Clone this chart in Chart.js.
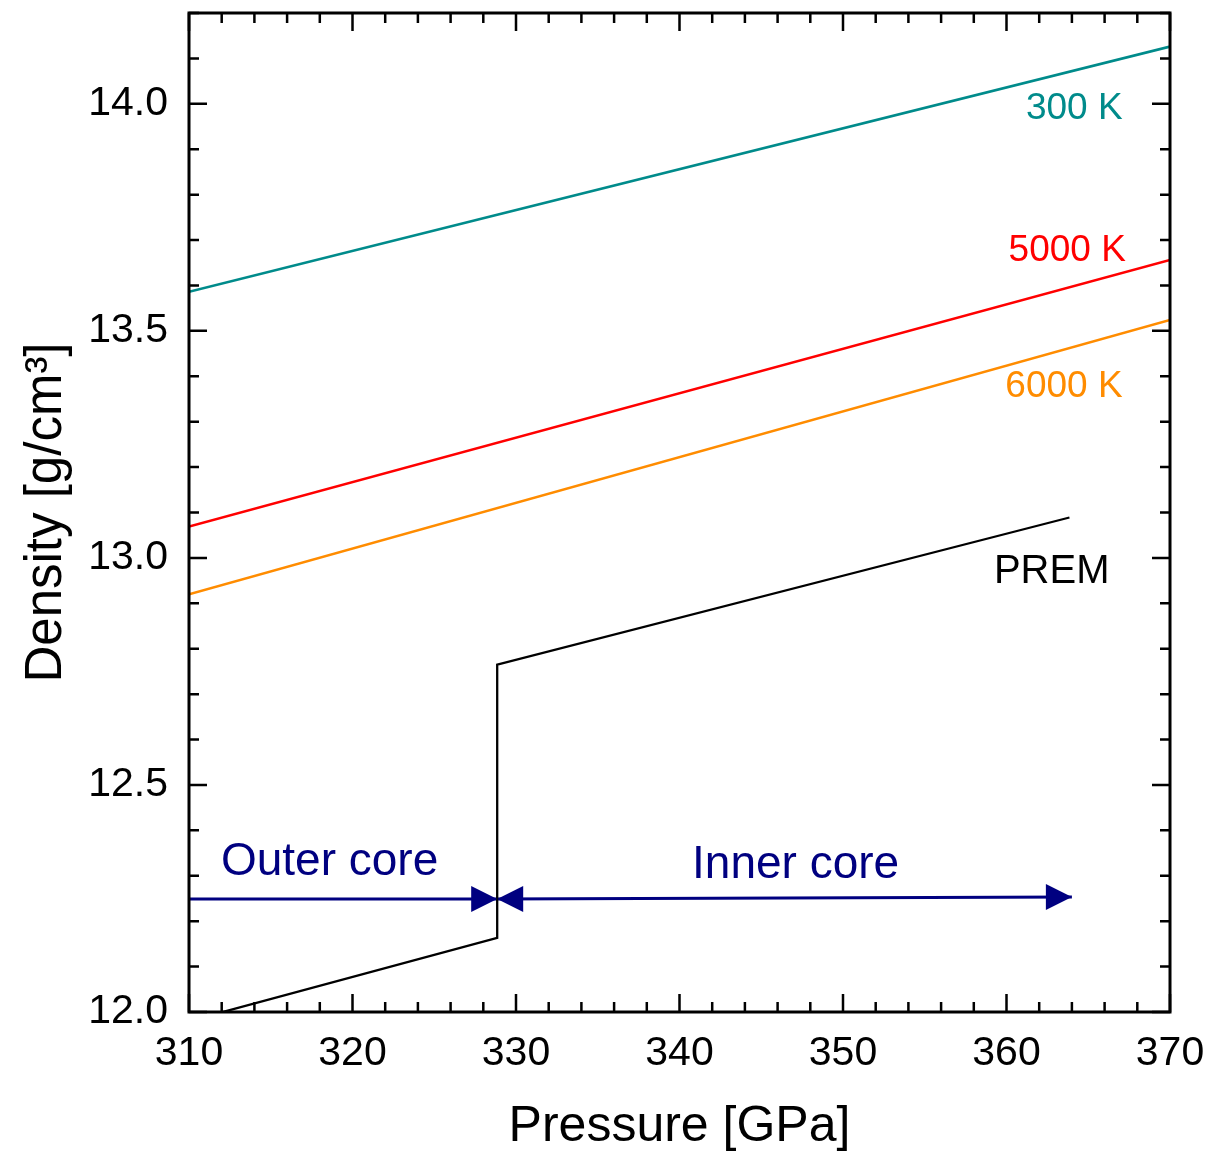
<!DOCTYPE html>
<html>
<head>
<meta charset="utf-8">
<script src="https://cdn.jsdelivr.net/npm/chart.js@4.4.1/dist/chart.umd.min.js"></script>
<style>
  html, body { margin: 0; padding: 0; background: #fff; }
  #wrap { width: 1221px; height: 1155px; }
</style>
</head>
<body>
<div id="wrap"><canvas id="densityChart"></canvas></div>
<script>
// Data (pressure in GPa, density in g/cm3)
const pressure300 = [310, 370];
const density300 = [13.586, 14.126];
const pressure5000 = [310, 370];
const density5000 = [13.069, 13.656];
const pressure6000 = [310, 370];
const density6000 = [12.920, 13.524];
const premPressure = [310, 328.85, 328.85, 363.85];
const premDensity = [11.98, 12.163, 12.765, 13.089];
const outerCoreArrowP = [310, 328.85];
const outerCoreArrowD = [12.249, 12.249];
const innerCoreArrowP = [328.85, 364];
const innerCoreArrowD = [12.249, 12.253];

const xTicks = [310, 320, 330, 340, 350, 360, 370];
const yTicks = [12.0, 12.5, 13.0, 13.5, 14.0];

const FONT = 'Arial, "Liberation Sans", sans-serif';
const NAVY = '#000080';

function pts(xs, ys) {
    return xs.map((x, i) => ({ x: x, y: ys[i] }));
}

// Labels placed next to the curves (data coordinates)
const curveLabels = [
    { text: '300 K', x: 367.1, y: 13.99, color: '#008B8B', size: 37, align: 'right' },
    { text: '5000 K', x: 367.3, y: 13.676, color: '#FF0000', size: 37, align: 'right' },
    { text: '6000 K', x: 367.1, y: 13.376, color: '#FF8C00', size: 37, align: 'right' },
    { text: 'PREM', x: 366.3, y: 12.97, color: '#000000', size: 40, align: 'right' },
    { text: 'Outer core', x: 318.6, y: 12.33, color: NAVY, size: 46, align: 'center' },
    { text: 'Inner core', x: 347.1, y: 12.323, color: NAVY, size: 46, align: 'center' }
];

// frame with inward ticks on all four sides, plus labels and arrow heads
const framePlugin = {
    id: 'frame',
    afterDatasetsDraw(chart) {
        const { ctx, chartArea: a, scales: { x, y } } = chart;
        ctx.save();
        ctx.strokeStyle = '#000';
        ctx.lineWidth = 3;
        ctx.strokeRect(a.left, a.top, a.right - a.left, a.bottom - a.top);
        ctx.lineWidth = 2.5;
        ctx.beginPath();
        for (let v = 310; v <= 370.001; v += 2) {
            const px = x.getPixelForValue(v);
            const len = Math.abs(v % 10) < 0.01 ? 18 : 10;
            ctx.moveTo(px, a.bottom); ctx.lineTo(px, a.bottom - len);
            ctx.moveTo(px, a.top); ctx.lineTo(px, a.top + len);
        }
        for (let i = 0; i <= 22; i++) {
            const v = 12 + i * 0.1;
            const py = y.getPixelForValue(v);
            const len = i % 5 === 0 ? 18 : 10;
            ctx.moveTo(a.left, py); ctx.lineTo(a.left + len, py);
            ctx.moveTo(a.right, py); ctx.lineTo(a.right - len, py);
        }
        ctx.stroke();

        // arrow heads at the ends of the core arrows
        ctx.fillStyle = NAVY;
        const head = (tipX, tipY, dir) => {
            const px = x.getPixelForValue(tipX), py = y.getPixelForValue(tipY);
            ctx.beginPath();
            ctx.moveTo(px, py);
            ctx.lineTo(px - dir * 26, py - 13);
            ctx.lineTo(px - dir * 26, py + 13);
            ctx.closePath();
            ctx.fill();
        };
        head(outerCoreArrowP[1], outerCoreArrowD[1], 1);
        head(innerCoreArrowP[0], innerCoreArrowD[0], -1);
        head(innerCoreArrowP[1], innerCoreArrowD[1], 1);

        ctx.textBaseline = 'middle';
        curveLabels.forEach(l => {
            ctx.font = l.size + 'px ' + FONT;
            ctx.fillStyle = l.color;
            ctx.textAlign = l.align;
            ctx.fillText(l.text, x.getPixelForValue(l.x), y.getPixelForValue(l.y));
        });
        ctx.restore();
    }
};

function lineSet(label, data, color, width) {
    return {
        label: label,
        data: data,
        borderColor: color,
        backgroundColor: color,
        borderWidth: width,
        pointRadius: 0,
        tension: 0
    };
}

const ctx = document.getElementById('densityChart').getContext('2d');
new Chart(ctx, {
    type: 'line',
    data: {
        datasets: [
            lineSet('300 K', pts(pressure300, density300), '#008B8B', 2.6),
            lineSet('5000 K', pts(pressure5000, density5000), '#FF0000', 2.6),
            lineSet('6000 K', pts(pressure6000, density6000), '#FF8C00', 2.6),
            lineSet('PREM', pts(premPressure, premDensity), '#000000', 2.3),
            lineSet('Outer core', pts(outerCoreArrowP, outerCoreArrowD), NAVY, 3),
            lineSet('Inner core', pts(innerCoreArrowP, innerCoreArrowD), NAVY, 3)
        ]
    },
    options: {
        responsive: true,
        maintainAspectRatio: false,
        animation: false,
        layout: { padding: { top: 13, right: 51, left: 0, bottom: 0 } },
        plugins: {
            legend: { display: false },
            tooltip: { enabled: false }
        },
        scales: {
            x: {
                type: 'linear',
                min: 310,
                max: 370,
                afterBuildTicks: s => { s.ticks = xTicks.map(v => ({ value: v })); },
                afterFit: s => { s.height = 143; s.paddingLeft = 0; s.paddingRight = 0; },
                grid: { display: false },
                border: { display: false },
                ticks: {
                    color: '#000',
                    padding: 9,
                    maxRotation: 0,
                    font: { family: FONT, size: 41 },
                    callback: v => String(v)
                },
                title: {
                    display: true,
                    text: 'Pressure [GPa]',
                    color: '#000',
                    font: { family: FONT, size: 50, lineHeight: 1.1 },
                    padding: { top: 0, bottom: 0 }
                }
            },
            y: {
                type: 'linear',
                min: 12.0,
                max: 14.2,
                afterBuildTicks: s => { s.ticks = yTicks.map(v => ({ value: v })); },
                afterFit: s => { s.width = 189; s.paddingTop = 0; s.paddingBottom = 0; },
                grid: { display: false },
                border: { display: false },
                ticks: {
                    color: '#000',
                    padding: 13,
                    font: { family: FONT, size: 41 },
                    callback: v => Number(v).toFixed(1)
                },
                title: {
                    display: true,
                    text: 'Density [g/cm³]',
                    color: '#000',
                    font: { family: FONT, size: 51, lineHeight: 1.1 },
                    padding: { top: 19, bottom: 0 }
                }
            }
        }
    },
    plugins: [framePlugin]
});
</script>
</body>
</html>
